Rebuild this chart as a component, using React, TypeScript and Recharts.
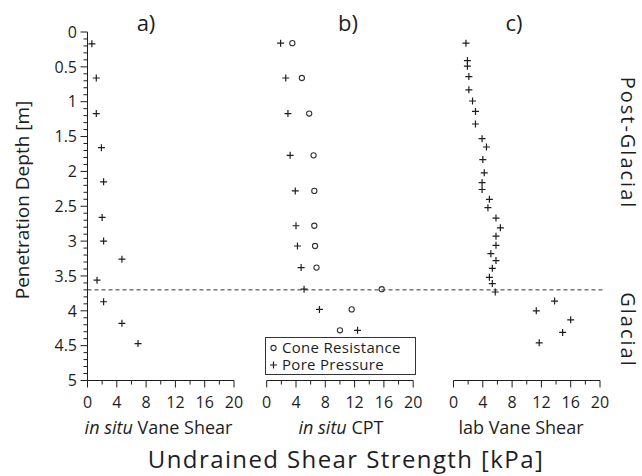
import { Legend, ReferenceLine, Scatter, ScatterChart, XAxis, YAxis } from "recharts";

const FONT = '"Open Sans", "DejaVu Sans", sans-serif';
const INK = "#1e1e1e";

// a) in situ vane shear
const VANE_DEPTH = [0.17, 0.66, 1.17, 1.66, 2.15, 2.66, 3.0, 3.26, 3.56, 3.87, 4.18, 4.47];
const VANE_SU = [0.6, 1.2, 1.2, 1.9, 2.2, 2.0, 2.2, 4.7, 1.3, 2.2, 4.7, 6.9];

// b) in situ CPT
const CPT_DEPTH = [0.16, 0.66, 1.17, 1.77, 2.28, 2.78, 3.07, 3.38, 3.69, 3.98, 4.28];
const CONE_SU = [3.5, 4.8, 5.8, 6.4, 6.5, 6.5, 6.6, 6.8, 15.7, 11.6, 10.0];
const PORE_SU = [1.9, 2.6, 2.9, 3.2, 3.9, 4.0, 4.2, 4.7, 5.1, 7.2, 12.4];

// c) lab vane shear
const LAB_DEPTH = [
  0.16, 0.41, 0.49, 0.64, 0.83, 0.99, 1.14, 1.32, 1.53, 1.65, 1.83, 2.02, 2.16, 2.26, 2.4, 2.52,
  2.67, 2.81, 2.93, 3.06, 3.18, 3.28, 3.39, 3.52, 3.61, 3.73, 3.86, 4.0, 4.13, 4.31, 4.46,
];
const LAB_SU = [
  1.7, 1.9, 1.9, 2.1, 2.1, 2.6, 3.0, 3.0, 3.9, 4.5, 4.0, 4.2, 3.9, 3.9, 4.9, 4.7,
  5.8, 6.4, 5.8, 5.8, 5.1, 5.8, 5.3, 4.9, 5.3, 5.7, 13.8, 11.3, 16.0, 14.9, 11.7,
];

const BOUNDARY_DEPTH = 3.7;
const SU_TICKS = [0, 2, 4, 6, 8, 10, 12, 14, 16, 18, 20];
const DEPTH_TICKS = [
  0, 0.1, 0.2, 0.3, 0.4, 0.5, 0.6, 0.7, 0.8, 0.9, 1, 1.1, 1.2, 1.3, 1.4, 1.5, 1.6, 1.7, 1.8, 1.9,
  2, 2.1, 2.2, 2.3, 2.4, 2.5, 2.6, 2.7, 2.8, 2.9, 3, 3.1, 3.2, 3.3, 3.4, 3.5, 3.6, 3.7, 3.8, 3.9,
  4, 4.1, 4.2, 4.3, 4.4, 4.5, 4.6, 4.7, 4.8, 4.9, 5,
];
const PANEL_NAMES = ["a)", "b)", "c)"];

const toPts = (depth: number[], su: number[]) => depth.map((d, i) => ({ su: su[i], depth: d }));

const W = 642;
const H = 476;
const TOP = 32;
const BOTTOM = 380.5;
const PANEL_W = 146.5;
const X_AXIS_H = 30;
// right end of the dashed boundary, in panel a) kPa units
const DASH_END = ((605 - 87.5) / PANEL_W) * 20;

const plus = (p: any) => (
  <path
    d={`M${p.cx - 3.5},${p.cy}h7M${p.cx},${p.cy - 3.5}v7`}
    stroke={INK}
    strokeWidth={1.2}
    fill="none"
  />
);
const ring = (p: any) => (
  <circle cx={p.cx} cy={p.cy} r={2.6} stroke="#333" strokeWidth={1.1} fill="none" />
);

function XTick(props: any) {
  const { x, y, payload } = props;
  const v = payload.value;
  const major = v % 4 === 0;
  return (
    <g>
      <line x1={x} x2={x} y1={y} y2={y + (major ? 7 : 4)} stroke={INK} />
      {major && (
        <text x={x} y={y + 27} textAnchor="middle" fontSize={16} fill={INK} fontFamily={FONT}>
          {v}
        </text>
      )}
    </g>
  );
}

function YTick(props: any) {
  const { x, y, payload } = props;
  const v = payload.value;
  const major = Math.abs(v * 2 - Math.round(v * 2)) < 1e-6;
  return (
    <g>
      <line x1={x - (major ? 7 : 4)} x2={x} y1={y} y2={y} stroke={INK} />
      {major && (
        <text x={x - 10.5} y={y} dy="0.36em" textAnchor="end" fontSize={16} fill={INK} fontFamily={FONT}>
          {v}
        </text>
      )}
    </g>
  );
}

function LegendBox(props: any) {
  const items = props.payload || [];
  return (
    <div
      style={{
        border: "1px solid #333",
        background: "#fff",
        fontFamily: FONT,
        fontSize: 15,
        lineHeight: "17px",
        color: INK,
        padding: "1px 0 1px 3px",
        boxSizing: "border-box",
        width: 151,
        whiteSpace: "nowrap",
      }}
    >
      {items.map((it: any) => (
        <div key={it.value} style={{ display: "flex", alignItems: "center", height: 17 }}>
          <svg width={9} height={17}>
            {it.value === "Cone Resistance" ? ring({ cx: 4.5, cy: 9 }) : plus({ cx: 4.5, cy: 9 })}
          </svg>
          <span style={{ marginLeft: 4, letterSpacing: 0.3 }}>{it.value}</span>
        </div>
      ))}
    </div>
  );
}

function Panel({ left, showY, children }: { left: number; showY?: boolean; children: any }) {
  const yw = showY ? 60 : 0;
  return (
    <div style={{ position: "absolute", left: 0, top: 0 }}>
      <ScatterChart
        width={W}
        height={H}
        margin={{ top: TOP, left: left - yw, right: W - left - PANEL_W, bottom: H - BOTTOM - X_AXIS_H }}
      >
        <XAxis
          type="number"
          dataKey="su"
          domain={[0, 20]}
          ticks={SU_TICKS}
          interval={0}
          height={X_AXIS_H}
          tickSize={0}
          tickMargin={0}
          tickLine={false}
          axisLine={{ stroke: INK }}
          tick={<XTick />}
          allowDataOverflow
        />
        <YAxis
          type="number"
          dataKey="depth"
          domain={[0, 5]}
          reversed
          hide={!showY}
          width={yw}
          ticks={DEPTH_TICKS}
          interval={0}
          tickSize={0}
          tickMargin={0}
          tickLine={false}
          axisLine={{ stroke: INK }}
          tick={<YTick />}
        />
        {children}
      </ScatterChart>
    </div>
  );
}

export default function App() {
  return (
    <div style={{ position: "absolute", left: 0, top: 0, width: W, height: H, background: "#fff" }}>
      <Panel left={87.5} showY>
        <ReferenceLine
          segment={[
            { x: 0, y: BOUNDARY_DEPTH },
            { x: DASH_END, y: BOUNDARY_DEPTH },
          ]}
          ifOverflow="visible"
          stroke="#333"
          strokeDasharray="4 3"
        />
        <Scatter data={toPts(VANE_DEPTH, VANE_SU)} shape={plus} isAnimationActive={false} />
      </Panel>
      <Panel left={266.7}>
        <Scatter
          name="Cone Resistance"
          data={toPts(CPT_DEPTH, CONE_SU)}
          shape={ring}
          isAnimationActive={false}
        />
        <Scatter
          name="Pore Pressure"
          data={toPts(CPT_DEPTH, PORE_SU)}
          shape={plus}
          isAnimationActive={false}
        />
        <Legend
          layout="vertical"
          align="center"
          verticalAlign="middle"
          wrapperStyle={{ left: 265, top: 337, width: 151, height: 38 }}
          content={(p: any) => <LegendBox {...p} />}
        />
      </Panel>
      <Panel left={453.5}>
        <Scatter data={toPts(LAB_DEPTH, LAB_SU)} shape={plus} isAnimationActive={false} />
      </Panel>

      <svg
        width={W}
        height={H}
        style={{ position: "absolute", left: 0, top: 0, pointerEvents: "none" }}
        fontFamily={FONT}
        fill={INK}
      >
        <text x={22} y={200} transform="rotate(-90 22 200)" textAnchor="middle" dy="0.35em" fontSize={19}>
          Penetration Depth [m]
        </text>
        {PANEL_NAMES.map((t, i) => (
          <text key={t} x={[146, 348, 514][i]} y={31} textAnchor="middle" fontSize={22}>
            {t}
          </text>
        ))}
        <text x={158.5} y={434} textAnchor="middle" fontSize={18}>
          <tspan fontStyle="italic">in situ</tspan> Vane Shear
        </text>
        <text x={341} y={434} textAnchor="middle" fontSize={18}>
          <tspan fontStyle="italic">in situ</tspan> CPT
        </text>
        <text x={521} y={434} textAnchor="middle" fontSize={18}>
          lab Vane Shear
        </text>
        <text x={346} y={468} textAnchor="middle" fontSize={24} letterSpacing={1.4}>
          Undrained Shear Strength [kPa]
        </text>
        <text x={628} y={143} transform="rotate(90 628 143)" textAnchor="middle" dy="0.35em" fontSize={20} letterSpacing={2}>
          Post-Glacial
        </text>
        <text x={628} y={330} transform="rotate(90 628 330)" textAnchor="middle" dy="0.35em" fontSize={20} letterSpacing={2}>
          Glacial
        </text>
      </svg>
    </div>
  );
}
